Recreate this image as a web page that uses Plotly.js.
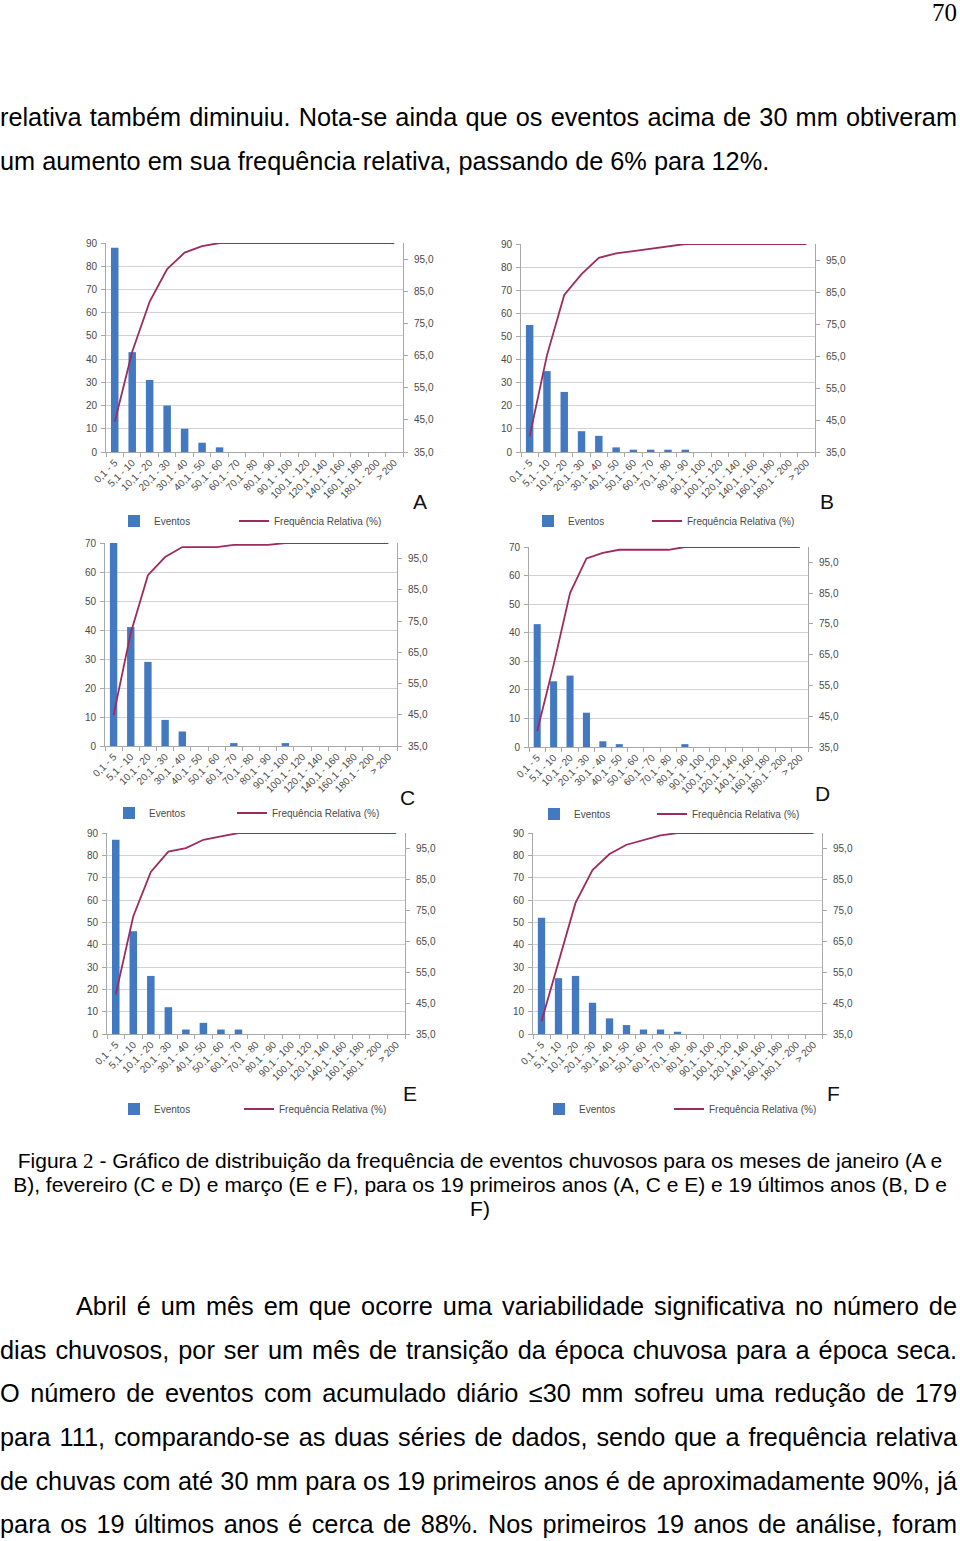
<!DOCTYPE html>
<html><head><meta charset="utf-8">
<script src="https://cdn.plot.ly/plotly-3.0.1.min.js"></script>
<style>
html,body{margin:0;padding:0;background:#fff;}
#page{position:relative;width:960px;height:1541px;overflow:hidden;background:#fff;}
#plot{position:absolute;left:0;top:0;width:960px;height:1541px;}
.txt{position:absolute;left:0;width:957px;font-family:'Liberation Sans',Arial,Helvetica,sans-serif;color:#000;z-index:10;}
.body{font-size:25.3px;height:44px;line-height:44px;}
.just{text-align:justify;text-align-last:justify;}
.cap{font-size:21px;height:24px;line-height:24px;text-align:center;width:960px;}
.serif{font-family:'Liberation Serif','Times New Roman',serif;}
</style>
</head><body>
<div id="page">
<div id="plot"></div>
<div class="txt serif" style="top:0px;font-size:25px;line-height:26px;text-align:right;">70</div>
<div class="txt body just" style="top:95px;">relativa também diminuiu. Nota-se ainda que os eventos acima de 30 mm obtiveram</div>
<div class="txt body" style="top:139px;">um aumento em sua frequência relativa, passando de 6% para 12%.</div>
<div class="txt cap" style="top:1149px;">Figura <span class="serif">2</span> - Gráfico de distribuição da frequência de eventos chuvosos para os meses de janeiro (A e</div>
<div class="txt cap" style="top:1173px;">B), fevereiro (C e D) e março (E e F), para os 19 primeiros anos (A, C e E) e 19 últimos anos (B, D e</div>
<div class="txt cap" style="top:1197px;">F)</div>
<div class="txt body just" style="top:1284px;padding-left:76px;width:881px;">Abril é um mês em que ocorre uma variabilidade significativa no número de</div>
<div class="txt body just" style="top:1328px;">dias chuvosos, por ser um mês de transição da época chuvosa para a época seca.</div>
<div class="txt body just" style="top:1371px;">O número de eventos com acumulado diário ≤30 mm sofreu uma redução de 179</div>
<div class="txt body just" style="top:1415px;">para 111, comparando-se as duas séries de dados, sendo que a frequência relativa</div>
<div class="txt body just" style="top:1459px;">de chuvas com até 30 mm para os 19 primeiros anos é de aproximadamente 90%, já</div>
<div class="txt body just" style="top:1502px;">para os 19 últimos anos é cerca de 88%. Nos primeiros 19 anos de análise, foram</div>
</div>
<script>
// ---- data ----
const categories = ['0,1 - 5','5,1 - 10','10,1 - 20','20,1 - 30','30,1 - 40','40,1 - 50','50,1 - 60','60,1 - 70','70,1 - 80','80,1 - 90','90,1 - 100','100,1 - 120','120,1 - 140','140,1 - 160','160,1 - 180','180,1 - 200','> 200'];
const seriesNames = ['Eventos','Frequência Relativa (%)'];
const panelLabels = ['A','B','C','D','E','F'];
const eventsA = [88,43,31,20,10,4,2,0,0,0,0,0,0,0,0,0,0];
const freqA   = [44.4,66.2,81.8,91.9,97.0,99.0,100,100,100,100,100,100,100,100,100,100,100];
const eventsB = [55,35,26,9,7,2,1,1,1,1,0,0,0,0,0,0,0];
const freqB   = [39.9,65.2,84.1,90.6,95.7,97.1,97.8,98.6,99.3,100,100,100,100,100,100,100,100];
const eventsC = [70,41,29,9,5,0,0,1,0,0,1,0,0,0,0,0,0];
const freqC   = [44.9,71.2,89.7,95.5,98.7,98.7,98.7,99.4,99.4,99.4,100,100,100,100,100,100,100];
const eventsD = [43,23,25,12,2,1,0,0,0,1,0,0,0,0,0,0,0];
const freqD   = [40.2,61.7,85.0,96.3,98.1,99.1,99.1,99.1,99.1,100,100,100,100,100,100,100,100];
const eventsE = [87,46,26,12,2,5,2,2,0,0,0,0,0,0,0,0,0];
const freqE   = [47.8,73.1,87.4,94.0,95.1,97.8,98.9,100,100,100,100,100,100,100,100,100,100];
const eventsF = [52,25,26,14,7,4,2,2,1,0,0,0,0,0,0,0,0];
const freqF   = [39.1,57.9,77.4,88.0,93.2,96.2,97.7,99.2,100,100,100,100,100,100,100,100,100];
const leftMax = [90,90,70,70,90,90];
const rightRange = [35,100];

// ---- layout geometry (pixels on the page) ----
const W=960, H=1541;
const fx = p => p/W, fy = p => 1 - p/H;
// legBar / legLine: [x of legend text start, y centre]
const panels = [
  {ev:eventsA, fr:freqA, px:[106,403], py:[243,452], lab:[420,502], legBar:[150,521], legLine:[272,521]},
  {ev:eventsB, fr:freqB, px:[521,815], py:[244,452], lab:[827,502], legBar:[564,521], legLine:[685,521]},
  {ev:eventsC, fr:freqC, px:[105,397], py:[543,746], lab:[407,797], legBar:[145,813], legLine:[270,813]},
  {ev:eventsD, fr:freqD, px:[529,808], py:[547,747], lab:[822,793], legBar:[570,814], legLine:[690,814]},
  {ev:eventsE, fr:freqE, px:[107,405], py:[833,1034], lab:[410,1093], legBar:[150,1109], legLine:[277,1109]},
  {ev:eventsF, fr:freqF, px:[533,822], py:[833,1034], lab:[833,1093], legBar:[575,1109], legLine:[707,1109]}
];
const BAR='#4379c0', LINE='#9e2b5e', AX='#a8a8a8', GRID='#d2d2d2', TICK='#4a4a4a';
const FONT='Liberation Sans, Arial, sans-serif';
const TEXT_OFFSET = 40; // plotly legend: text starts ~40px after legend x

const traces=[];
const layout={
  width:W, height:H, margin:{l:0,r:0,t:0,b:0},
  paper_bgcolor:'#fff', plot_bgcolor:'rgba(0,0,0,0)',
  separators:',.', bargap:0.57, hovermode:false,
  font:{family:FONT, color:TICK, size:10},
  annotations:[]
};
const legendName = i => i===1 ? 'legend' : 'legend'+i;
function legendBox(pos, shift){
  return {orientation:'h', x:fx(pos[0]-TEXT_OFFSET+shift), y:fy(pos[1]), xanchor:'left', yanchor:'middle',
    itemwidth:30, bgcolor:'rgba(0,0,0,0)', font:{family:FONT,size:10,color:TICK}};
}
panels.forEach((c,k)=>{
  const xa='x'+(k+1), ya='y'+(2*k+1), ya2='y'+(2*k+2);
  const lgBar = legendName(2*k+1), lgLine = legendName(2*k+2);
  traces.push({type:'bar', x:categories, y:c.ev, xaxis:xa, yaxis:ya, name:seriesNames[0],
    marker:{color:BAR}, legend:lgBar, showlegend:true});
  traces.push({type:'scatter', mode:'lines', x:categories, y:c.fr, xaxis:xa, yaxis:ya2, name:seriesNames[1],
    line:{color:LINE, width:1.8}, legend:lgLine, showlegend:true});
  layout['xaxis'+(k+1)] = {domain:[fx(c.px[0]),fx(c.px[1])], anchor:ya, type:'category',
    tickson:'boundaries', ticks:'outside', ticklen:4, tickcolor:AX, showline:true, linecolor:AX,
    tickangle:-45, tickfont:{family:FONT,size:10,color:TICK}, showgrid:false, range:[-0.5,16.5], fixedrange:true};
  layout['yaxis'+(2*k+1)] = {domain:[fy(c.py[1]),fy(c.py[0])], anchor:xa, range:[0,leftMax[k]], dtick:10,
    showgrid:true, gridcolor:GRID, gridwidth:1, showline:true, linecolor:AX, ticks:'outside', ticklen:4, tickcolor:AX,
    zeroline:false, tickfont:{family:FONT,size:10,color:TICK}, ticklabelstandoff:2, fixedrange:true};
  layout['yaxis'+(2*k+2)] = {overlaying:ya, anchor:xa, side:'right', range:rightRange, tick0:35, dtick:10,
    tickformat:'.1f', showgrid:false, showline:true, linecolor:AX, ticks:'outside', ticklen:4, tickcolor:AX,
    zeroline:false, tickfont:{family:FONT,size:10,color:TICK}, ticklabelstandoff:4, fixedrange:true};
  layout[lgBar] = legendBox(c.legBar, 4);
  layout[lgLine] = legendBox(c.legLine, 2);
  layout.annotations.push({text:panelLabels[k], x:fx(c.lab[0]), y:fy(c.lab[1]), xref:'paper', yref:'paper',
    showarrow:false, xanchor:'center', yanchor:'middle', font:{family:FONT,size:21,color:'#111'}});
});
Plotly.newPlot('plot', traces, layout, {staticPlot:true, displayModeBar:false});
</script>
</body></html>
